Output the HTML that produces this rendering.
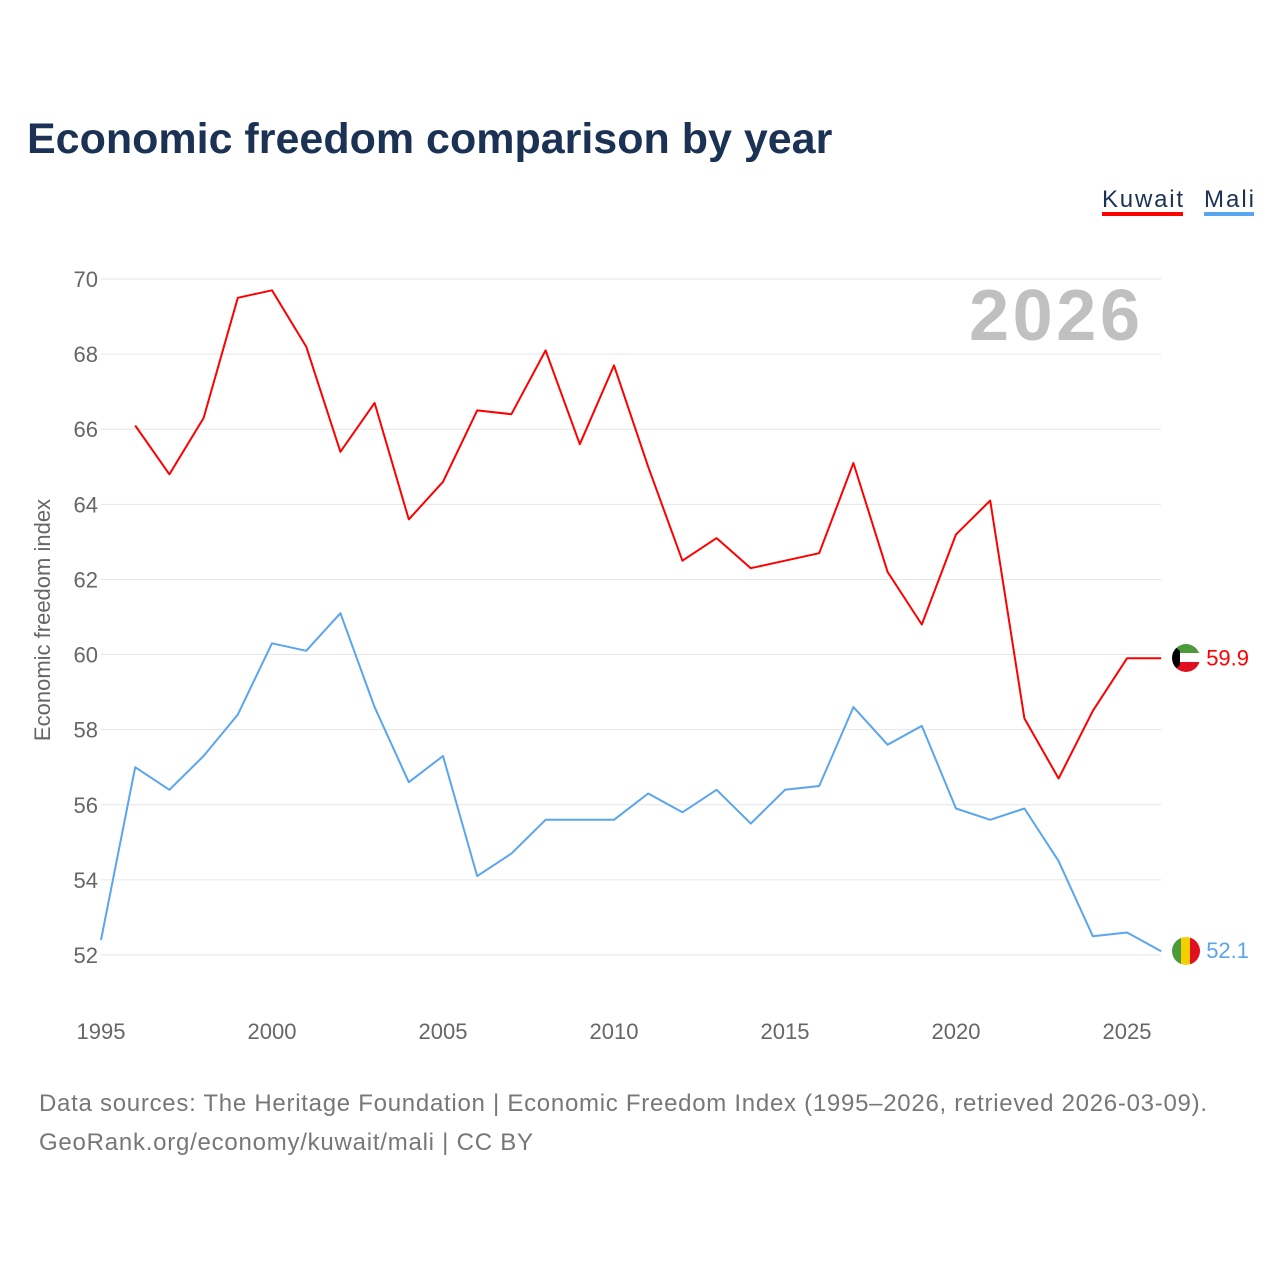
<!DOCTYPE html>
<html><head><meta charset="utf-8">
<style>
body{margin:0;background:#fff;font-family:"Liberation Sans",sans-serif;}
</style></head>
<body>
<svg id="chart" width="1280" height="1280" xmlns="http://www.w3.org/2000/svg">
<defs>
<clipPath id="clipK"><circle cx="1186" cy="658" r="14"/></clipPath>
<clipPath id="clipM"><circle cx="1186" cy="951" r="14"/></clipPath>
</defs>
<rect width="1280" height="1280" fill="#fff"/>
<text x="27" y="153" font-size="43" font-weight="bold" fill="#1b3255" font-family="Liberation Sans, sans-serif">Economic freedom comparison by year</text>
<g>
<text x="1102" y="207" font-size="24" fill="#1b3255" textLength="81">Kuwait</text>
<rect x="1102" y="212" width="81" height="4" fill="#ff0000"/>
<text x="1204" y="207" font-size="24" fill="#1b3255" textLength="50">Mali</text>
<rect x="1204" y="212" width="50" height="4" fill="#5aa5ef"/>
</g>
<text x="969" y="340" font-size="72" font-weight="bold" fill="#c0c0c0" textLength="171">2026</text>
<text transform="translate(50,620) rotate(-90)" text-anchor="middle" font-size="22" fill="#666">Economic freedom index</text>
<g id="grid"></g><g id="yticks"></g><g id="xticks"></g><g id="series"></g>
<g font-size="24" fill="#777">
<text x="39" y="1111" textLength="1168">Data sources: The Heritage Foundation | Economic Freedom Index (1995–2026, retrieved 2026-03-09).</text>
<text x="39" y="1150" textLength="494">GeoRank.org/economy/kuwait/mali | CC BY</text>
</g>
<g clip-path="url(#clipK)">
<rect x="1172" y="644" width="28" height="10" fill="#4c9a3c"/>
<rect x="1172" y="653" width="28" height="10" fill="#fff"/>
<rect x="1172" y="662" width="28" height="10" fill="#e0101f"/>
<polygon points="1172,644 1180,651 1180,665 1172,672" fill="#000"/>
</g>
<g clip-path="url(#clipM)">
<rect x="1172" y="937" width="10" height="28" fill="#4c9a3c"/>
<rect x="1181" y="937" width="10" height="28" fill="#f5d000"/>
<rect x="1190" y="937" width="10" height="28" fill="#e0101f"/>
</g>
</svg>
<script>
const yTicks=[52,54,56,58,60,62,64,66,68,70];
const xTicks=[1995,2000,2005,2010,2015,2020,2025];
const kuwaitYears=[1996,1997,1998,1999,2000,2001,2002,2003,2004,2005,2006,2007,2008,2009,2010,2011,2012,2013,2014,2015,2016,2017,2018,2019,2020,2021,2022,2023,2024,2025,2026];
const kuwaitValues=[66.1,64.8,66.3,69.5,69.7,68.2,65.4,66.7,63.6,64.6,66.5,66.4,68.1,65.6,67.7,65.0,62.5,63.1,62.3,62.5,62.7,65.1,62.2,60.8,63.2,64.1,58.3,56.7,58.5,59.9,59.9];
const maliYears=[1995,1996,1997,1998,1999,2000,2001,2002,2003,2004,2005,2006,2007,2008,2009,2010,2011,2012,2013,2014,2015,2016,2017,2018,2019,2020,2021,2022,2023,2024,2025,2026];
const maliValues=[52.4,57.0,56.4,57.3,58.4,60.3,60.1,61.1,58.6,56.6,57.3,54.1,54.7,55.6,55.6,55.6,56.3,55.8,56.4,55.5,56.4,56.5,58.6,57.6,58.1,55.9,55.6,55.9,54.5,52.5,52.6,52.1];
const NS="http://www.w3.org/2000/svg";
const X=y=>101+(y-1995)*(1026/30);
const Y=v=>279+(70-v)*(676/18);
function mk(tag,attrs,parent,text){const e=document.createElementNS(NS,tag);for(const k in attrs)e.setAttribute(k,attrs[k]);if(text!==undefined)e.textContent=text;document.getElementById(parent).appendChild(e);return e;}
yTicks.forEach(t=>{
 const l=mk('line',{x1:101,x2:1161,y1:Y(t),y2:Y(t),stroke:'#e6e6e6','stroke-width':1},'grid');
 
 
 const tx=mk('text',{x:98,y:Y(t)+8,'text-anchor':'end','font-size':22,fill:'#666'},'yticks',t);
 
 
});
xTicks.forEach(t=>{
 const tx=mk('text',{x:X(t),y:1039,'text-anchor':'middle','font-size':22,fill:'#666'},'xticks',t);
 
 
});
function series(years,vals,color,name){
 const d=years.map((y,i)=>(i?'L':'M')+X(y).toFixed(1)+','+Y(vals[i]).toFixed(1)).join('');
 const p=mk('path',{d:d,fill:'none',stroke:color,'stroke-width':2,'stroke-linejoin':'round'},'series');
 
 
 const lv=vals[vals.length-1],ly=years[years.length-1];
 const t=mk('text',{x:X(ly)+45,y:Y(lv)+7,'font-size':22,fill:color},'series',lv.toFixed(1));
 
 
}
series(kuwaitYears,kuwaitValues,'#ff0000','kuwait');
series(maliYears,maliValues,'#5aa5ef','mali');
</script>
</body></html>
